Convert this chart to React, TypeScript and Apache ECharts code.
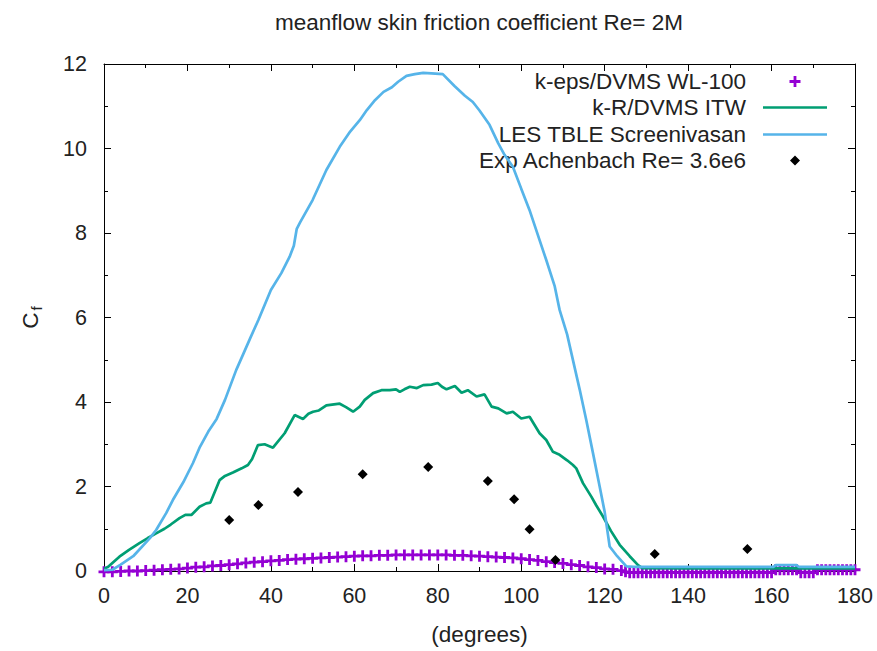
import React, { useEffect, useRef } from "react";
import * as echarts from "echarts";

const FONT = "'Liberation Sans', Arial, sans-serif";

const chartTitle = "meanflow skin friction coefficient Re= 2M";
const seriesNames = [
  "k-eps/DVMS WL-100",
  "k-R/DVMS ITW",
  "LES TBLE Screenivasan",
  "Exp Achenbach Re= 3.6e6",
];
const xTicks = [0, 20, 40, 60, 80, 100, 120, 140, 160, 180];
const yTicks = [0, 2, 4, 6, 8, 10, 12];

// k-eps/DVMS WL-100 (purple crosses)
const kEpsAngles = [
  0, 2, 4, 6, 8, 10, 12, 14, 16, 18, 20, 22, 24, 26, 28, 30, 32, 34, 36, 38,
  40, 42, 44, 46, 48, 50, 52, 54, 56, 58, 60, 62, 64, 66, 68, 70, 72, 74, 76,
  78, 80, 82, 84, 86, 88, 90, 92, 94, 96, 98, 100, 102, 104, 106, 108, 110,
  112, 114, 116, 118, 120, 122, 124, 125, 126, 127, 128, 129, 130, 131, 132,
  133, 134, 135, 136, 137, 138, 139, 140, 141, 142, 143, 144, 145, 146, 147,
  148, 149, 150, 151, 152, 153, 154, 155, 156, 157, 158, 159, 160, 161, 162,
  163, 164, 165, 166, 167, 168, 169, 170, 171, 172, 173, 174, 175, 176, 177,
  178, 179, 180,
];
const kEpsCf = [
  -0.02, -0.02, -0.01, 0.0, 0.0, 0.01, 0.02, 0.03, 0.04, 0.05, 0.07, 0.09,
  0.1, 0.12, 0.13, 0.15, 0.17, 0.19, 0.21, 0.22, 0.24, 0.25, 0.27, 0.28, 0.29,
  0.3, 0.31, 0.32, 0.33, 0.34, 0.35, 0.36, 0.36, 0.37, 0.37, 0.38, 0.38, 0.38,
  0.38, 0.38, 0.38, 0.38, 0.37, 0.37, 0.36, 0.35, 0.34, 0.33, 0.32, 0.31,
  0.29, 0.27, 0.25, 0.22, 0.2, 0.18, 0.15, 0.13, 0.1, 0.08, 0.05, 0.04, 0.01,
  -0.02, -0.04, -0.04, -0.04, -0.04, -0.04, -0.04, -0.04, -0.04, -0.04, -0.04,
  -0.04, -0.04, -0.04, -0.04, -0.04, -0.04, -0.04, -0.04, -0.04, -0.04, -0.04,
  -0.04, -0.04, -0.04, -0.04, -0.04, -0.04, -0.04, -0.04, -0.04, -0.04, -0.04,
  -0.04, -0.04, -0.04, 0.03, 0.03, 0.03, 0.03, 0.03, 0.03, -0.04, -0.04,
  -0.04, -0.04, 0.03, 0.03, 0.03, 0.03, 0.03, 0.03, 0.03, 0.03, 0.03, 0.03,
];

// k-R/DVMS ITW (green line)
const kRAngles = [
  0, 1, 3.7, 6, 8.5, 10.5, 12.5, 14.5, 16, 18.1, 19.5, 21, 22.9, 24.5, 25.5,
  27.7, 29, 30.9, 33, 34.5, 35.5, 36.9, 38.5, 40.5, 43.3, 45.7, 47.7, 49,
  50.1, 51.5, 53.3, 56.5, 58, 59.7, 61.3, 62.5, 64.5, 66.5, 68.5, 70, 70.9,
  72, 73.3, 75, 76.5, 78.5, 80, 81, 82.1, 84.1, 85.7, 87.2, 89.3, 91.2, 92.9,
  94.5, 96.5, 98, 100, 102, 104.4, 106, 107.6, 109.2, 111, 112.4, 113.2,
  114.8, 116.8, 118, 119.6, 121.5, 123.6, 126, 128, 129, 140, 160, 180,
];
const kRCf = [
  0.05, 0.1, 0.34, 0.5, 0.66, 0.78, 0.89, 1.0, 1.1, 1.25, 1.33, 1.33, 1.52,
  1.6, 1.62, 2.15, 2.25, 2.33, 2.43, 2.51, 2.65, 2.98, 3.0, 2.92, 3.26, 3.69,
  3.6, 3.72, 3.77, 3.8, 3.92, 3.96, 3.88, 3.77, 3.89, 4.05, 4.21, 4.28, 4.28,
  4.3, 4.24, 4.3, 4.36, 4.33, 4.4, 4.41, 4.45, 4.36, 4.3, 4.38, 4.22, 4.28,
  4.13, 4.18, 3.89, 3.85, 3.73, 3.77, 3.61, 3.65, 3.26, 3.1, 2.82, 2.75, 2.62,
  2.51, 2.43, 2.08, 1.76, 1.55, 1.29, 0.95, 0.62, 0.35, 0.14, 0.07, 0.06,
  0.06, 0.06,
];

// LES TBLE Screenivasan (blue line)
const lesAngles = [
  0, 2, 4, 7, 11, 12.5, 14.9, 16.5, 19, 21.3, 23, 25, 27, 29, 31.7, 33, 35,
  37, 40, 42.5, 44.5, 45.5, 46.2, 47, 50, 53.3, 56.5, 59, 61.3, 63, 65, 67,
  69, 70.5, 72.5, 74.5, 76.5, 78.5, 81.2, 84, 86.5, 88.4, 90, 92.4, 94.5, 96,
  98, 100, 102, 104, 106, 108, 109.2, 111, 112.4, 114, 115.6, 117.2, 118.8,
  120, 121.2, 123, 125.2, 127, 140, 160.5, 161, 166, 166.5, 180,
];
const lesCf = [
  0.02, 0.03, 0.15, 0.35, 0.78, 0.97, 1.37, 1.68, 2.1, 2.55, 2.94, 3.3, 3.6,
  4.05, 4.76, 5.05, 5.5, 5.94, 6.65, 7.05, 7.44, 7.7, 8.1, 8.25, 8.78, 9.49,
  10.04, 10.4, 10.67, 10.91, 11.15, 11.34, 11.45, 11.58, 11.72, 11.76, 11.79,
  11.78, 11.76, 11.48, 11.25, 11.1, 10.9, 10.56, 10.12, 9.85, 9.57, 9.05,
  8.54, 7.95, 7.36, 6.75, 6.18, 5.6, 4.99, 4.3, 3.57, 2.79, 2.0, 1.4, 0.58,
  0.35, 0.11, 0.1, 0.1, 0.1, 0.14, 0.14, 0.1, 0.1,
];

// Exp Achenbach Re= 3.6e6 (black diamonds)
const expAngles = [30, 37, 46.5, 62, 77.7, 92, 98.3, 102, 108.2, 132, 154.2];
const expCf = [1.21, 1.56, 1.87, 2.29, 2.46, 2.13, 1.7, 0.99, 0.26, 0.4, 0.52];

const colors = ["#9400d3", "#009e73", "#56b4e9", "#000000"];
const legendCenters = [83, 109, 136, 162];

const PLUS = "path://M4.1,0L6.9,0L6.9,4.1L11,4.1L11,6.9L6.9,6.9L6.9,11L4.1,11L4.1,6.9L0,6.9L0,4.1L4.1,4.1Z";
// legend icons: drawn inside a 64x11 box so they sit centred under the key column
const PLUS_KEY =
  "path://M0,0L0,0ZM30.6,0L33.4,0L33.4,4.1L37.5,4.1L37.5,6.9L33.4,6.9L33.4,11L30.6,11L30.6,6.9L26.5,6.9L26.5,4.1L30.6,4.1ZM64,11L64,11Z";
const DIAMOND_KEY = "path://M0,0L0,0ZM32,0.5L37,5.5L32,10.5L27,5.5ZM64,11L64,11Z";
const BAR_KEY = "path://M0,0L0,0ZM0,4.15L64,4.15L64,6.85L0,6.85ZM64,11L64,11Z";
const legendIcons = [PLUS_KEY, BAR_KEY, BAR_KEY, DIAMOND_KEY];

const zip = (xs: number[], ys: number[]) => xs.map((x, i) => [x, ys[i]]);

export default function App() {
  const ref = useRef<HTMLDivElement>(null);

  useEffect(() => {
    if (!ref.current) return;
    const chart = echarts.init(ref.current, null, { renderer: "svg" });
    const axisCommon = {
      axisLine: { show: true, onZero: false, lineStyle: { color: "#000", width: 1 } },
      axisTick: { show: true, inside: true, length: 7, lineStyle: { color: "#000" } },
      minorTick: { show: true, splitNumber: 2, length: 4, lineStyle: { color: "#000" } },
      splitLine: { show: false },
    };
    const option: any = {
      animation: false,
      backgroundColor: "#fff",
      title: {
        text: chartTitle,
        left: 474,
        textAlign: "center",
        top: 6,
        textStyle: { fontSize: 22.5, fontWeight: "normal", color: "#222", fontFamily: FONT },
      },
      grid: { left: 104, right: 22, top: 64, bottom: 80, containLabel: false },
      legend: seriesNames.map((n, i) => ({
        data: [{ name: n, icon: legendIcons[i] }],
        right: 50,
        top: legendCenters[i] - 13,
        align: "right",
        itemWidth: 64,
        itemHeight: 11,
        symbolKeepAspect: false,
        padding: 0,
        selectedMode: false,
        textStyle: { fontSize: 22.5, color: "#222", fontFamily: FONT, padding: [0, 12, 0, 0] },
      })),
      xAxis: [
        {
          type: "value",
          min: xTicks[0],
          max: xTicks[xTicks.length - 1],
          interval: 20,
          position: "bottom",
          ...axisCommon,
          name: "(degrees)",
          nameLocation: "middle",
          nameGap: 52,
          nameTextStyle: { fontSize: 22.5, color: "#222", fontFamily: FONT },
          axisLabel: { show: true, margin: 14, fontSize: 21.5, color: "#222", fontFamily: FONT },
        },
        {
          type: "value",
          min: xTicks[0],
          max: xTicks[xTicks.length - 1],
          interval: 20,
          position: "top",
          ...axisCommon,
          axisLabel: { show: false },
        },
      ],
      yAxis: [
        {
          type: "value",
          min: yTicks[0],
          max: yTicks[yTicks.length - 1],
          interval: 2,
          position: "left",
          ...axisCommon,
          name: "{c|C}{f|f}",
          nameLocation: "middle",
          nameRotate: 90,
          nameGap: 60,
          nameTextStyle: {
            fontFamily: FONT,
            color: "#222",
            rich: {
              c: { fontSize: 22.5, fontFamily: FONT, color: "#222", lineHeight: 28, verticalAlign: "middle" },
              f: { fontSize: 15, fontFamily: FONT, color: "#222", lineHeight: 28, verticalAlign: "bottom", padding: [0, 0, 0, 2] },
            },
          },
          axisLabel: { show: true, margin: 17, fontSize: 21.5, color: "#222", fontFamily: FONT },
        },
        {
          type: "value",
          min: yTicks[0],
          max: yTicks[yTicks.length - 1],
          interval: 2,
          position: "right",
          ...axisCommon,
          axisLabel: { show: false },
        },
      ],
      series: [
        {
          name: seriesNames[0],
          type: "scatter",
          xAxisIndex: 0,
          yAxisIndex: 0,
          data: zip(kEpsAngles, kEpsCf),
          symbol: PLUS,
          symbolSize: 11,
          clip: false,
          itemStyle: { color: colors[0], opacity: 1 },
          z: 2,
        },
        {
          name: seriesNames[1],
          type: "line",
          xAxisIndex: 0,
          yAxisIndex: 0,
          data: zip(kRAngles, kRCf),
          symbol: "none",
          clip: false,
          lineStyle: { color: colors[1], width: 2.7 },
          itemStyle: { color: colors[1] },
          z: 3,
        },
        {
          name: seriesNames[2],
          type: "line",
          xAxisIndex: 0,
          yAxisIndex: 0,
          data: zip(lesAngles, lesCf),
          symbol: "none",
          clip: false,
          lineStyle: { color: colors[2], width: 2.7 },
          itemStyle: { color: colors[2] },
          z: 4,
        },
        {
          name: seriesNames[3],
          type: "scatter",
          xAxisIndex: 0,
          yAxisIndex: 0,
          data: zip(expAngles, expCf),
          symbol: "diamond",
          symbolSize: 10,
          clip: false,
          itemStyle: { color: colors[3], opacity: 1 },
          z: 5,
        },
      ],
    };
    chart.setOption(option);
    return () => chart.dispose();
  }, []);

  return <div ref={ref} style={{ width: 877, height: 651, position: "absolute", left: 0, top: 0 }} />;
}
